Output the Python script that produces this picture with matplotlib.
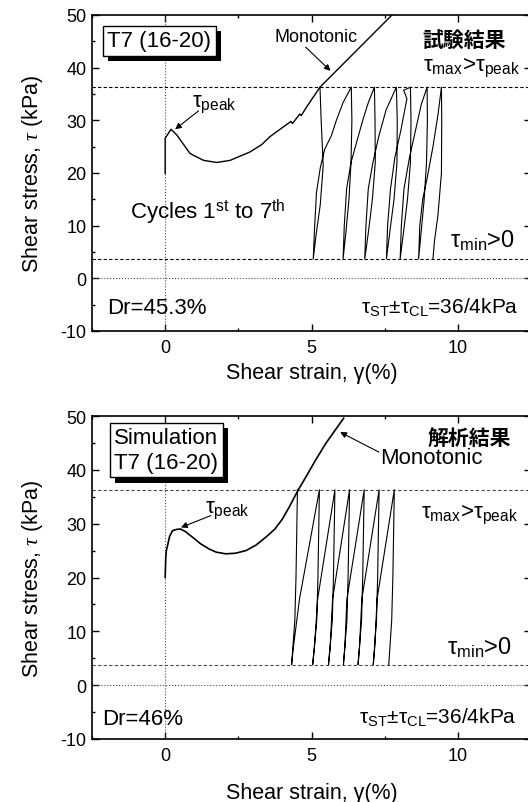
import numpy as np
import matplotlib
matplotlib.use('Agg')
import matplotlib.pyplot as plt
import matplotlib.patheffects as pe
from matplotlib.ticker import MultipleLocator

plt.rcParams['font.family'] = ['Liberation Sans', 'Noto Sans CJK JP', 'DejaVu Sans']
plt.rcParams['mathtext.fontset'] = 'custom'
plt.rcParams['mathtext.rm'] = 'Liberation Sans'
plt.rcParams['mathtext.it'] = 'Liberation Serif:italic'
plt.rcParams['mathtext.bf'] = 'Liberation Sans:bold'
plt.rcParams['axes.unicode_minus'] = False

# ---- test result (top) ----
exp_mono_strain = [0.0, 0.0, 0.0, 0.2, 0.4, 0.85, 1.31, 1.76, 2.22, 2.9, 3.3, 3.58, 4.0, 4.3, 4.35, 4.6, 4.65, 4.84, 5.29, 7.75]
exp_mono_stress = [19.9, 24.0, 26.6, 28.3, 27.2, 23.7, 22.4, 22.0, 22.4, 24.0, 25.4, 26.9, 28.6, 29.8, 29.4, 31.2, 30.9, 32.6, 36.3, 50.0]

exp_cyc_strain = [5.29, 5.33, 5.40, 5.30, 5.15, 5.06,
                  5.10, 5.17, 5.30, 5.45, 5.68, 5.85, 6.08, 6.36,
                  6.38, 6.35, 6.28, 6.18, 6.08,
                  6.12, 6.20, 6.35, 6.55, 6.75, 6.95, 7.15,
                  7.17, 7.18, 7.08, 6.95, 6.82,
                  6.86, 6.94, 7.10, 7.30, 7.55, 7.90,
                  7.93, 7.92, 7.82, 7.68, 7.56,
                  7.60, 7.70, 7.85, 8.05, 8.26, 8.15, 8.38,
                  8.40, 8.38, 8.28, 8.15, 8.03,
                  8.07, 8.16, 8.35, 8.55, 8.75, 8.95,
                  8.96, 8.93, 8.85, 8.75, 8.66,
                  8.70, 8.80, 8.95, 9.15, 9.32, 9.44,
                  9.45, 9.44, 9.32, 9.20, 9.15]
exp_cyc_stress = [36.3, 30.0, 21.4, 14.0, 8.0, 3.7,
                  9.0, 16.3, 21.0, 24.5, 27.1, 30.0, 33.4, 36.3,
                  30.0, 22.0, 15.0, 9.0, 3.7,
                  10.0, 17.0, 22.0, 26.0, 30.0, 33.5, 36.3,
                  30.0, 22.0, 15.0, 9.0, 3.7,
                  10.0, 17.0, 22.0, 27.0, 32.0, 36.3,
                  30.0, 22.0, 15.0, 9.0, 3.7,
                  10.0, 17.0, 23.0, 28.0, 34.1, 35.7, 36.3,
                  30.0, 22.0, 15.0, 9.0, 3.7,
                  10.0, 17.0, 23.0, 28.0, 33.0, 36.3,
                  30.0, 22.0, 15.0, 9.0, 3.7,
                  10.0, 15.0, 19.0, 25.0, 31.0, 36.3,
                  30.0, 20.0, 12.0, 7.0, 3.7]
exp_tau_max, exp_tau_min = 36.3, 3.7

# ---- simulation (bottom) ----
sim_mono_strain = [0.0, 0.02, 0.04, 0.08, 0.15, 0.25, 0.4, 0.53, 0.7, 0.93, 1.2, 1.5, 1.75, 2.07, 2.4, 2.76,
                   3.1, 3.44, 3.75, 4.01, 4.25, 4.53, 4.8, 5.16, 5.5, 6.1]
sim_mono_stress = [20.0, 23.5, 25.0, 25.9, 27.6, 28.7, 28.95, 29.0, 28.5, 27.5, 26.3, 25.3, 24.7, 24.4, 24.5, 25.0,
                   26.0, 27.5, 29.0, 30.9, 33.2, 36.1, 38.6, 42.0, 45.0, 49.6]

sim_cyc_strain = [4.52, 4.47, 4.43, 4.32,
                  4.38, 4.59, 5.27,
                  5.22, 5.18, 5.04,
                  5.10, 5.21, 5.80,
                  5.75, 5.71, 5.58,
                  5.64, 5.72, 6.30,
                  6.25, 6.21, 6.09,
                  6.14, 6.21, 6.80,
                  6.75, 6.71, 6.59,
                  6.64, 6.72, 7.31,
                  7.26, 7.22, 7.11,
                  7.16, 7.24, 7.83,
                  7.78, 7.74, 7.64]
sim_cyc_stress = [36.3, 20.0, 12.0, 3.8,
                  7.0, 16.0, 36.3,
                  20.0, 12.0, 3.8,
                  7.0, 16.0, 36.3,
                  20.0, 12.0, 3.8,
                  7.0, 16.0, 36.3,
                  20.0, 12.0, 3.8,
                  7.0, 16.0, 36.3,
                  20.0, 12.0, 3.8,
                  7.0, 16.0, 36.3,
                  20.0, 12.0, 3.8,
                  7.0, 16.0, 36.3,
                  20.0, 12.0, 3.8]
sim_tau_max, sim_tau_min = 36.3, 3.8

fig = plt.figure(figsize=(5.28, 8.03), dpi=100)
ax1 = fig.add_axes([92/528, 1-332/803, 439/528, 316/803])
ax2 = fig.add_axes([92/528, 1-740/803, 439/528, 323/803])


def style(ax, labelpad):
    ax.set_xlim(-2.5, 12.5)
    ax.set_ylim(-10, 50)
    ax.xaxis.set_major_locator(MultipleLocator(5))
    ax.xaxis.set_minor_locator(MultipleLocator(2.5))
    ax.yaxis.set_major_locator(MultipleLocator(10))
    ax.yaxis.set_minor_locator(MultipleLocator(5))
    ax.tick_params(which='both', direction='in', top=True, right=True, labelsize=13, width=1)
    ax.tick_params(which='major', length=5)
    ax.tick_params(which='minor', length=2.5)
    ax.tick_params(axis='x', pad=6)
    ax.tick_params(axis='y', pad=4)
    for s in ax.spines.values():
        s.set_linewidth(1.2)
    ax.axhline(0, ls=':', lw=0.8, color='0.3')
    ax.axvline(0, ls=':', lw=0.8, color='0.3')
    ax.set_xlabel('Shear strain, γ(%)', fontsize=15.5, labelpad=labelpad)
    ax.set_ylabel(r'Shear stress, $\tau$ (kPa)', fontsize=15.5, labelpad=11)


def shadow_box(ax, x, y, s):
    t = ax.text(x, y, s, transform=ax.transAxes, fontsize=16, ha='center', va='center',
                multialignment='center', zorder=5,
                bbox=dict(boxstyle='square,pad=0.2', fc='white', ec='black', lw=1))
    t.get_bbox_patch().set_path_effects([
        pe.SimplePatchShadow(offset=(4, -4), shadow_rgbFace='black', alpha=1.0),
        pe.Normal()])


arrow = dict(arrowstyle='-|>', lw=0.8, color='black', mutation_scale=9, shrinkA=0, shrinkB=0)

# top panel
style(ax1, 4)
ax1.axhline(exp_tau_max, ls=(0, (3, 2)), lw=0.8, color='black')
ax1.axhline(exp_tau_min, ls=(0, (3, 2)), lw=0.8, color='black')
ax1.plot(exp_mono_strain, exp_mono_stress, color='black', lw=1)
ax1.plot(exp_cyc_strain, exp_cyc_stress, color='black', lw=0.8)
shadow_box(ax1, 0.153, 0.919, 'T7 (16-20)')
ax1.text(5.15, 46.0, 'Monotonic', fontsize=13, ha='center', va='center')
ax1.annotate('', xy=(5.65, 39.4), xytext=(4.8, 43.9), arrowprops=arrow)
ax1.text(10.2, 45.2, '試験結果', fontsize=15, fontweight='bold', family=['Noto Sans CJK JP'], ha='center', va='center')
ax1.text(10.45, 40.0, r'$\mathrm{\tau_{max}}$>$\mathrm{\tau_{peak}}$', fontsize=16, ha='center', va='center')
ax1.text(1.67, 33.1, r'$\mathrm{\tau_{peak}}$', fontsize=16, ha='center', va='center')
ax1.annotate('', xy=(0.34, 28.3), xytext=(1.14, 31.8), arrowprops=arrow)
ax1.text(-1.2, 12.8, r'Cycles 1$^{\mathrm{st}}$ to 7$^{\mathrm{th}}$', fontsize=16, ha='left', va='center')
ax1.text(10.85, 7.3, r'$\mathrm{\tau_{min}}$>0', fontsize=17, ha='center', va='center')
ax1.text(-2.0, -5.6, 'Dr=45.3%', fontsize=16, ha='left', va='center')
ax1.text(12.08, -5.4, r'$\mathrm{\tau_{ST}}$±$\mathrm{\tau_{CL}}$=36/4kPa', fontsize=15, ha='right', va='center')

# bottom panel
style(ax2, 13)
ax2.axhline(sim_tau_max, ls=(0, (3, 2)), lw=0.8, color='0.3')
ax2.axhline(sim_tau_min, ls=(0, (3, 2)), lw=0.8, color='0.3')
ax2.plot(sim_mono_strain, sim_mono_stress, color='black', lw=1.2)
ax2.plot(sim_cyc_strain, sim_cyc_stress, color='black', lw=0.8)
shadow_box(ax2, 0.169, 0.895, 'Simulation\nT7 (16-20)')
ax2.text(9.1, 42.2, 'Monotonic', fontsize=16, ha='center', va='center')
ax2.annotate('', xy=(5.98, 47.0), xytext=(7.3, 43.3), arrowprops=arrow)
ax2.text(10.4, 46.1, '解析結果', fontsize=15, fontweight='bold', family=['Noto Sans CJK JP'], ha='center', va='center')
ax2.text(10.4, 31.8, r'$\mathrm{\tau_{max}}$>$\mathrm{\tau_{peak}}$', fontsize=16, ha='center', va='center')
ax2.text(2.12, 32.5, r'$\mathrm{\tau_{peak}}$', fontsize=16, ha='center', va='center')
ax2.annotate('', xy=(0.54, 29.3), xytext=(1.56, 31.5), arrowprops=arrow)
ax2.text(10.75, 7.1, r'$\mathrm{\tau_{min}}$>0', fontsize=17, ha='center', va='center')
ax2.text(-2.16, -6.2, 'Dr=46%', fontsize=16, ha='left', va='center')
ax2.text(12.0, -5.9, r'$\mathrm{\tau_{ST}}$±$\mathrm{\tau_{CL}}$=36/4kPa', fontsize=15, ha='right', va='center')

fig.savefig('out.png', dpi=100)
